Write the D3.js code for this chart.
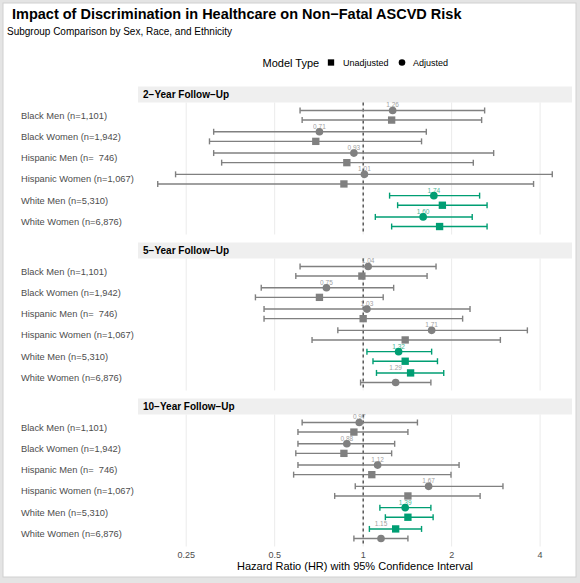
<!DOCTYPE html>
<html>
<head>
<meta charset="utf-8">
<script src="https://cdn.jsdelivr.net/npm/d3@7"></script>
<style>
  body { margin: 0; background: #e4e4e4; }
  svg { display: block; font-family: "Liberation Sans", Arial, sans-serif; }
  text { white-space: pre; }
</style>
</head>
<body>
<script>
let svgWidth = 580;
let svgHeight = 583;

// subgroups (top to bottom) and follow-up periods
let subgroups = ["Black Men (n=1,101)", "Black Women (n=1,942)", "Hispanic Men (n=  746)",
    "Hispanic Women (n=1,067)", "White Men (n=5,310)", "White Women (n=6,876)"];
let periods = ["2\u2212Year Follow\u2212Up", "5\u2212Year Follow\u2212Up", "10\u2212Year Follow\u2212Up"];

// adjusted model: HR, lower and upper 95% CI, one row per period
let adjHR = [[1.26, 0.71, 0.93, 1.01, 1.74, 1.60],
             [1.04, 0.75, 1.03, 1.71, 1.32, 1.29],
             [0.97, 0.88, 1.12, 1.67, 1.39, 1.15]];
let adjLo = [[0.61, 0.31, 0.31, 0.23, 1.23, 1.10],
             [0.61, 0.45, 0.46, 0.82, 1.03, 0.98],
             [0.62, 0.60, 0.60, 0.94, 1.14, 0.93]];
let adjHi = [[2.59, 1.64, 2.78, 4.40, 2.49, 2.35],
             [1.77, 1.27, 2.31, 3.62, 1.71, 1.70],
             [1.53, 1.28, 2.12, 2.99, 1.70, 1.42]];

// unadjusted model
let unadjHR = [[1.25, 0.69, 0.88, 0.86, 1.86, 1.82],
               [0.99, 0.71, 1.00, 1.39, 1.39, 1.45],
               [0.93, 0.86, 1.07, 1.42, 1.42, 1.29]];
let unadjLo = [[0.62, 0.30, 0.33, 0.20, 1.31, 1.25],
               [0.59, 0.43, 0.46, 0.67, 1.08, 1.11],
               [0.60, 0.59, 0.58, 0.80, 1.19, 1.05]];
let unadjHi = [[2.53, 1.58, 2.37, 3.80, 2.64, 2.64],
               [1.65, 1.17, 2.18, 2.93, 1.79, 1.88],
               [1.42, 1.25, 1.99, 2.50, 1.73, 1.58]];

let xTicks = [0.25, 0.5, 1, 2, 4];

let grey = "#808080";
let green = "#009E73";

let panelLeft = 138;
let panelRight = 572;
let stripH = 16;
let panelH = 132;
let panelStep = 156;
let firstStrip = 86.5;

let svg = d3.select("body")
    .append("svg")
    .attr("width", svgWidth)
    .attr("height", svgHeight);

// card background
svg.append("rect")
    .attr("x", 3).attr("y", 3)
    .attr("width", 573).attr("height", 574)
    .attr("fill", "white")
    .attr("stroke", "#d0d0d0");

// build rows from the arrays
let rows = [];
periods.forEach(function(p, pi) {
    subgroups.forEach(function(s, si) {
        let adj = {period: pi, group: s, model: "Adjusted", hr: adjHR[pi][si], lo: adjLo[pi][si], hi: adjHi[pi][si]};
        let un = {period: pi, group: s, model: "Unadjusted", hr: unadjHR[pi][si], lo: unadjLo[pi][si], hi: unadjHi[pi][si]};
        [adj, un].forEach(d => d.sig = d.lo > 1 || d.hi < 1);
        // dodge order: significant first, otherwise adjusted on top
        let pair = (adj.sig === un.sig || adj.sig) ? [adj, un] : [un, adj];
        pair[0].slot = -1;
        pair[1].slot = 1;
        adj.labelSlot = pair[0].slot;
        rows.push(adj, un);
    });
});

let allVals = rows.flatMap(d => [d.lo, d.hi]);
let lmin = Math.log2(d3.min(allVals));
let lmax = Math.log2(d3.max(allVals));
let pad = (lmax - lmin) * 0.05;

let x = d3.scaleLog()
    .base(2)
    .domain([Math.pow(2, lmin - pad), Math.pow(2, lmax + pad)])
    .range([panelLeft, panelRight]);

// title
svg.append("text")
    .attr("x", 12).attr("y", 19)
    .attr("font-size", 14.5).attr("font-weight", "bold")
    .text("Impact of Discrimination in Healthcare on Non\u2212Fatal ASCVD Risk");
svg.append("text")
    .attr("x", 7).attr("y", 35)
    .attr("font-size", 10)
    .text("Subgroup Comparison by Sex, Race, and Ethnicity");

// legend
let legend = svg.append("g").attr("transform", "translate(0, 62.5)");
legend.append("text").attr("x", 262.5).attr("y", 4).attr("font-size", 11).text("Model Type");
legend.append("path").attr("d", d3.symbol(d3.symbolSquare, 40)()).attr("transform", "translate(331,0)");
legend.append("text").attr("x", 343).attr("y", 3.2).attr("font-size", 9).text("Unadjusted");
legend.append("path").attr("d", d3.symbol(d3.symbolCircle, 34)()).attr("transform", "translate(402,0)");
legend.append("text").attr("x", 413).attr("y", 3.2).attr("font-size", 9).text("Adjusted");

periods.forEach(function(p, pi) {
    let stripTop = firstStrip + pi * panelStep;
    let top = stripTop + stripH;

    let y = d3.scalePoint()
        .domain(subgroups)
        .range([top, top + panelH])
        .padding(0.6);

    let g = svg.append("g");

    // strip
    g.append("rect")
        .attr("x", panelLeft).attr("y", stripTop)
        .attr("width", panelRight - panelLeft).attr("height", stripH)
        .attr("fill", "#efefef");
    g.append("text")
        .attr("x", panelLeft + 5).attr("y", stripTop + 11.5)
        .attr("font-size", 10).attr("font-weight", "bold")
        .text(p);

    // grid
    g.selectAll(".grid")
        .data(xTicks)
        .join("line")
        .attr("x1", d => x(d)).attr("x2", d => x(d))
        .attr("y1", top).attr("y2", top + panelH)
        .attr("stroke", "#ebebeb").attr("stroke-width", 1);

    // row labels
    g.selectAll(".lab")
        .data(subgroups)
        .join("text")
        .attr("x", 21)
        .attr("y", d => y(d) + 3.3)
        .attr("font-size", 9.3)
        .attr("fill", "#4d4d4d")
        .text(d => d);

    // reference line
    g.append("line")
        .attr("x1", x(1)).attr("x2", x(1))
        .attr("y1", top).attr("y2", top + panelH)
        .attr("stroke", "#222").attr("stroke-width", 1.1)
        .attr("stroke-dasharray", "3,3");

    let pr = rows.filter(d => d.period === pi);
    let yy = d => y(d.group) + d.slot * 4.8;
    let col = d => d.sig ? green : grey;

    let bars = g.selectAll(".bar").data(pr).join("g");
    bars.append("line")
        .attr("x1", d => x(d.lo)).attr("x2", d => x(d.hi))
        .attr("y1", yy).attr("y2", yy)
        .attr("stroke", col).attr("stroke-width", 1.4);
    bars.append("line")
        .attr("x1", d => x(d.lo)).attr("x2", d => x(d.lo))
        .attr("y1", d => yy(d) - 3).attr("y2", d => yy(d) + 3)
        .attr("stroke", col).attr("stroke-width", 1.4);
    bars.append("line")
        .attr("x1", d => x(d.hi)).attr("x2", d => x(d.hi))
        .attr("y1", d => yy(d) - 3).attr("y2", d => yy(d) + 3)
        .attr("stroke", col).attr("stroke-width", 1.4);

    bars.append("path")
        .attr("d", d => d.model === "Adjusted" ? d3.symbol(d3.symbolCircle, 46)() : d3.symbol(d3.symbolSquare, 54)())
        .attr("transform", d => `translate(${x(d.hr)}, ${yy(d)})`)
        .attr("fill", col);

    // HR labels for adjusted estimates
    g.selectAll(".hrlab")
        .data(pr.filter(d => d.model === "Adjusted"))
        .join("text")
        .attr("x", d => x(d.hr))
        .attr("y", d => y(d.group) + d.labelSlot * 4.8 - 3)
        .attr("text-anchor", "middle")
        .attr("font-size", 6.5)
        .attr("fill", col)
        .attr("opacity", 0.75)
        .text(d => d.hr.toFixed(2));

    // x axis on last panel
    if (pi === periods.length - 1) {
        g.selectAll(".tick")
            .data(xTicks)
            .join("text")
            .attr("x", d => x(d))
            .attr("y", top + panelH + 11.5)
            .attr("text-anchor", "middle")
            .attr("font-size", 9)
            .attr("fill", "#4d4d4d")
            .text(d => d);
        g.append("text")
            .attr("x", (panelLeft + panelRight) / 2)
            .attr("y", top + panelH + 23.5)
            .attr("text-anchor", "middle")
            .attr("font-size", 11)
            .text("Hazard Ratio (HR) with 95% Confidence Interval");
    }
});
</script>
</body>
</html>
